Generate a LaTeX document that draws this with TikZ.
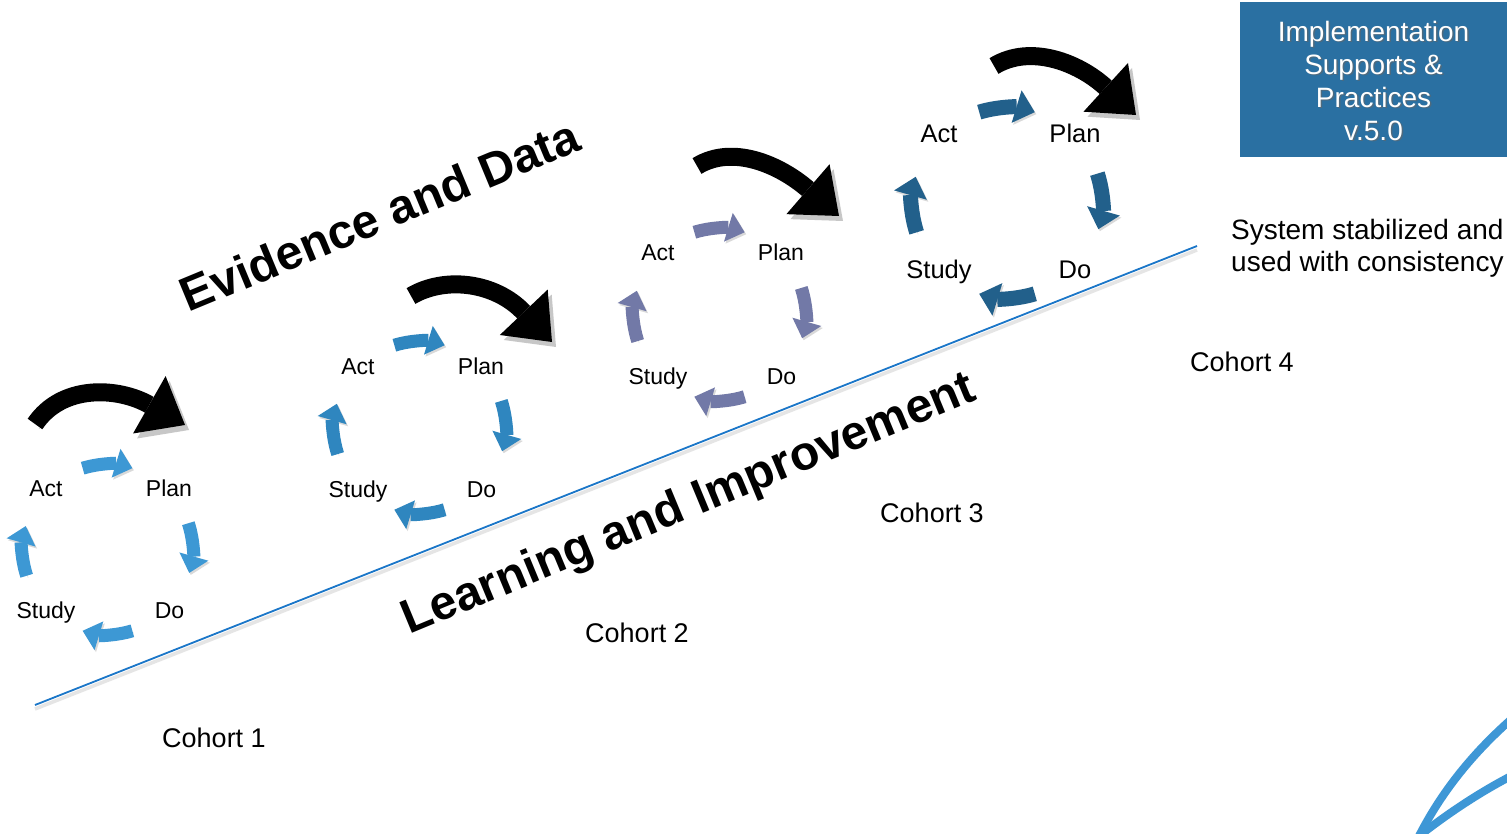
\documentclass[tikz,border=0pt]{standalone}
\usepackage{fontspec}
\setmainfont{Liberation Sans}
\usetikzlibrary{arrows.meta,calc}
\definecolor{cycA}{HTML}{3D98D4}
\definecolor{cycB}{HTML}{2F86BF}
\definecolor{cycC}{HTML}{7279A7}
\definecolor{cycD}{HTML}{22608B}
\definecolor{boxc}{HTML}{2A70A2}
\definecolor{linec}{HTML}{1A76C8}
\definecolor{swc}{HTML}{3E97D6}
\newcommand{\pdsacycle}[7]{%
  \begin{scope}[cycarrow/.style={draw=#4, line width=#5pt,
      -{Triangle[length=#6pt,width=#7pt,line width=0pt]},
      preaction={draw=black!15, transform canvas={shift={(1.5pt,-2pt)}}}}]
    \foreach \a in {-107,-18,73,162} {
      \draw[cycarrow] ($(#1,#2)+(\a:#3)$) arc[start angle=\a, delta angle=34, radius=#3];
    }
  \end{scope}}
\begin{document}
\begin{tikzpicture}[x=1pt,y=-1pt,
  lbl/.style={font=\fontsize{23}{27}\selectfont, anchor=base, inner sep=0pt},
  lblbig/.style={font=\fontsize{25.5}{29}\selectfont, anchor=base, inner sep=0pt},
  cohort/.style={font=\fontsize{27}{31}\selectfont, anchor=base, inner sep=0pt},
  bigtxt/.style={font=\bfseries\fontsize{48}{52}\selectfont, anchor=base, inner sep=0pt, rotate=22.5},
  blkarrow/.style={line width=18pt, black,
      -{Triangle[length=41pt,width=66pt,line width=0pt]},
      preaction={draw=black!22, transform canvas={shift={(4pt,-5pt)}}}},
  boxtxt/.style={font=\fontsize{28}{33}\selectfont, align=center, inner sep=0pt},
  swoosh/.style={draw=swc, line width=8pt, line cap=round}]
\clip (0,0) rectangle (1507,834);
\fill[white] (0,0) rectangle (1507,834);

% baseline
\coordinate (ls) at (35,705);
\coordinate (le) at (1197,246);
\draw[black!10, line width=3.5pt] ($(ls)+(0,4)$) -- ($(le)+(0,4)$);
\draw[linec, line width=1.8pt] (ls) -- (le);

% big texts
\node (evid) [bigtxt] at (386,231) {Evidence and Data};
\node (learn) [bigtxt] at (694,517) {Learning and Improvement};

% cycles
\pdsacycle{107.5}{549.5}{85}{cycA}{13}{17}{30}
\pdsacycle{419.5}{427.5}{86}{cycB}{13}{17}{30}
\pdsacycle{719.5}{314.5}{86}{cycC}{13}{17}{30}
\pdsacycle{1007}{203}{95}{cycD}{15}{19}{34}

% black arrows
\draw[blkarrow] (35,424) .. controls (62,384) and (118,387) .. (185,425);
\draw[blkarrow] (411,296) .. controls (445,276) and (495,282) .. (552,342);
\draw[blkarrow] (697,166) .. controls (733,144) and (780,165) .. (839,216);
\draw[blkarrow] (994,66) .. controls (1030,44) and (1078,62) .. (1136,115);

% cycle labels
\node (actA) [lbl] at (46,496) {Act};
\node (planA) [lbl] at (169,496) {Plan};
\node (studyA) [lbl] at (46,618) {Study};
\node (doA) [lbl] at (169.5,618) {Do};

\node (actB) [lbl] at (358,374) {Act};
\node (planB) [lbl] at (481,374) {Plan};
\node (studyB) [lbl] at (358,497) {Study};
\node (doB) [lbl] at (481.5,497) {Do};

\node (actC) [lbl] at (658,261) {Act};
\node (planC) [lbl] at (781,261) {Plan};
\node (studyC) [lbl] at (658,384) {Study};
\node (doC) [lbl] at (781.5,384) {Do};

\node (actD) [lblbig] at (939,142.5) {Act};
\node (planD) [lblbig] at (1075,142.5) {Plan};
\node (studyD) [lblbig] at (939,278.5) {Study};
\node (doD) [lblbig] at (1075,278.5) {Do};

% cohorts
\node (co1) [cohort] at (214,747) {Cohort 1};
\node (co2) [cohort] at (637,642) {Cohort 2};
\node (co3) [cohort] at (932,522) {Cohort 3};
\node (co4) [cohort] at (1242,371) {Cohort 4};

% system text
\node (sys1) [font=\fontsize{28}{32}\selectfont, anchor=base west, inner sep=0pt] at (1231,240) {System stabilized and};
\node (sys2) [font=\fontsize{28}{32}\selectfont, anchor=base west, inner sep=0pt] at (1231,272) {used with consistency};

% box
\fill[boxc] (1240,2) rectangle (1510,157);
\node (boxshadow) [boxtxt, text=black!60, opacity=0.6] at (1375,82) {Implementation\\Supports \&\\Practices\\v.5.0};
\node (boxlabel) [boxtxt, text=white] at (1373.5,80.5) {Implementation\\Supports \&\\Practices\\v.5.0};

% swoosh
\coordinate (sw0) at (1419,836);
\draw[swoosh] (sw0) .. controls (1440,795) and (1470,755) .. (1515,716);
\draw[swoosh] (sw0) .. controls (1450,812) and (1480,792) .. (1515,774);
\end{tikzpicture}
\end{document}
